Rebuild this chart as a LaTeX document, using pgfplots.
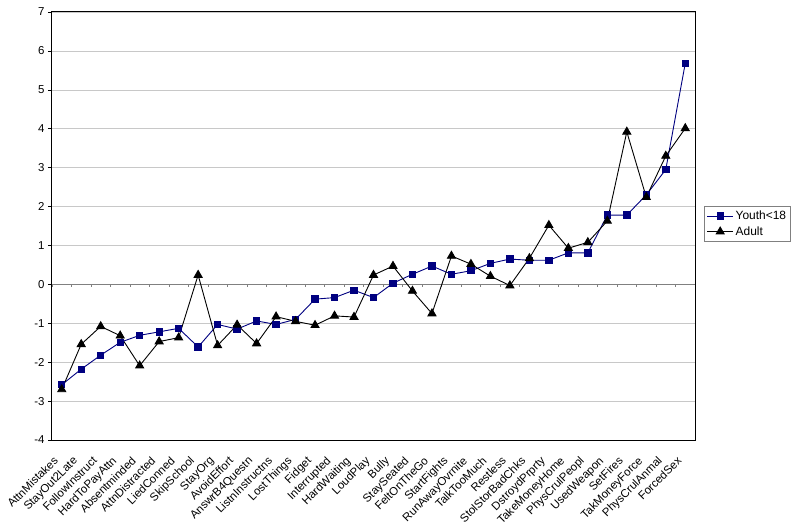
\documentclass[border=0pt]{standalone}
\usepackage{pgfplots}
\pgfplotsset{compat=1.18}
\usepackage{pgfplotstable}
\usepackage{fontspec}
\setmainfont{Liberation Sans}
\definecolor{navyser}{HTML}{000080}
\definecolor{gridgray}{HTML}{C8C8C8}

\pgfplotstableread{
x youth adult
1  -2.58 -2.70
2  -2.18 -1.54
3  -1.82 -1.08
4  -1.49 -1.32
5  -1.31 -2.09
6  -1.22 -1.47
7  -1.13 -1.37
8  -1.61  0.24
9  -1.03 -1.57
10 -1.15 -1.04
11 -0.94 -1.52
12 -1.03 -0.83
13 -0.90 -0.95
14 -0.38 -1.05
15 -0.34 -0.81
16 -0.15 -0.84
17 -0.34  0.24
18  0.03  0.47
19  0.26 -0.17
20  0.47 -0.75
21  0.26  0.73
22  0.35  0.52
23  0.54  0.21
24  0.65 -0.03
25  0.62  0.67
26  0.62  1.52
27  0.81  0.93
28  0.81  1.08
29  1.78  1.63
30  1.78  3.92
31  2.30  2.24
32  2.95  3.30
33  5.68  4.01
}\datatable

\begin{document}
\begin{tikzpicture}
\begin{axis}[
  scale only axis,
  width=643bp, height=428bp,
  xmin=0.5, xmax=33.5,
  ymin=-4, ymax=7,
  axis line style={draw=none},
  xtick={1,...,33},
  xticklabels={AttnMistakes,StayOut2Late,FollowInstruct,HardToPayAttn,Absentminded,AttnDistracted,LiedConned,SkipSchool,StayOrg,AvoidEffort,AnswrB4Questn,ListnInstructns,LostThings,Fidget,Interrupted,HardWaiting,LoudPlay,Bully,StaySeated,FeltOnTheGo,StartFights,RunAwayOvrnite,TalkTooMuch,Restless,StolStorBadChks,DstroydPrprty,TakeMoneyHome,PhysCrulPeopl,UsedWeapon,SetFires,TakMoneyForce,PhysCrulAnmal,ForcedSex},
  x tick label style={xshift=-9bp, yshift=-10bp, rotate=45, anchor=north east, font=\fontsize{11.5}{13}\selectfont, inner sep=1bp},
  major x tick style={draw=none},
  ytick={-4,...,7},
  yticklabels={-4,-3,-2,-1,0,1,2,3,4,5,6,7},
  y tick label style={font=\fontsize{11.5}{13}\selectfont},
  ytick pos=left,
  tick align=outside,
  major tick length=4bp,
  y tick style={black, line width=0.6bp},
  ymajorgrids,
  grid style={gridgray, line width=0.6bp},
  legend style={at={(rel axis cs:1,0.505)}, anchor=west, xshift=9bp,
    font=\fontsize{12}{14}\selectfont, draw=gray, line width=0.5bp,
    inner sep=2.5bp, row sep=1.5bp},
  legend cell align=left,
  legend image code/.code={\draw[mark repeat=2,mark phase=2] plot coordinates {(0bp,0bp) (13bp,0bp) (26bp,0bp)};},
  clip=false,
]
\draw[gray, line width=0.6bp] (axis cs:0.5,0) -- (axis cs:33.5,0);
\pgfplotsinvokeforeach{0.5,1.5,2.5,3.5,4.5,5.5,6.5,7.5,8.5,9.5,10.5,11.5,12.5,13.5,14.5,15.5,16.5,17.5,18.5,19.5,20.5,21.5,22.5,23.5,24.5,25.5,26.5,27.5,28.5,29.5,30.5,31.5,32.5}{
  \draw[gray, line width=0.6bp] (axis cs:#1,0) -- (axis cs:#1,-0.08);
}
\addplot[navyser, line width=0.9bp, mark=square*, mark size=3.2bp, mark options={fill=navyser, draw=navyser}] table[x=x, y=youth] {\datatable};
\addlegendentry{Youth<18}
\addplot[black, line width=0.9bp, mark=triangle*, mark size=4.6bp, mark options={fill=black, draw=black}] table[x=x, y=adult] {\datatable};
\addlegendentry{Adult}
\draw[black, line width=1bp] (rel axis cs:0,0) rectangle (rel axis cs:1,1);
\end{axis}
\pgfresetboundingbox
\path (current axis.south west) ++(-52bp,-92bp) coordinate (bbA);
\path (current axis.north east) ++(105bp,12bp) coordinate (bbB);
\useasboundingbox (bbA) rectangle (bbB);
\end{tikzpicture}
\end{document}
